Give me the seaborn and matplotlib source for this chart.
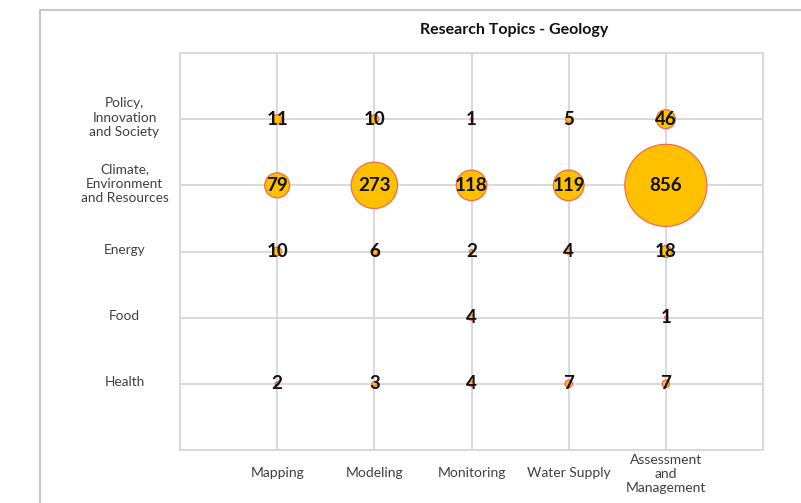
import matplotlib
matplotlib.use("Agg")
import matplotlib.pyplot as plt
import pandas as pd
import seaborn as sns
from matplotlib.lines import Line2D

# Study areas (x) and research topics (y, bottom to top)
methods = ["Mapping", "Modeling", "Monitoring", "Water Supply", "Assessment\nand\nManagement"]
topics = ["Health", "Food", "Energy", "Climate,\nEnvironment\nand Resources", "Policy,\nInnovation\nand Society"]

# Publication counts per topic row (None = no publications)
health = [2, 3, 4, 7, 7]
food = [None, None, 4, None, 1]
energy = [10, 6, 2, 4, 18]
climate = [79, 273, 118, 119, 856]
policy = [11, 10, 1, 5, 46]

rows = [health, food, energy, climate, policy]
records = []
for yi, row in enumerate(rows):
    for xi, val in enumerate(row):
        if val is not None:
            records.append({"method": xi + 1, "topic": yi + 1, "count": val})
df = pd.DataFrame(records)

sns.set_theme(style="white")
plt.rcParams["font.family"] = ["Lato", "DejaVu Sans"]

fig = plt.figure(figsize=(8.01, 5.03), dpi=100)
ax = fig.add_axes([180 / 801, 1 - 450 / 503, (763 - 180) / 801, (450 - 53) / 503])

vmax = df["count"].max()
sns.scatterplot(
    data=df, x="method", y="topic", size="count",
    sizes=(0, 3488), size_norm=(0, vmax),
    color="#FFC000", edgecolor="#F46A50", linewidth=0.9,
    legend=False, ax=ax, zorder=3,
)

ax.set_xlim(0, 6)
ax.set_ylim(0, 6)
ax.set_xticks(range(0, 7))
ax.set_yticks(range(0, 7))
ax.set_xticklabels([])
ax.set_yticklabels([])
ax.tick_params(length=0)
ax.set_xlabel("")
ax.set_ylabel("")
ax.grid(True, color="#d9d9d9", linewidth=1.4)
ax.set_axisbelow(True)
for sp in ax.spines.values():
    sp.set_color("#d9d9d9")
    sp.set_linewidth(1.4)

# Count labels on each bubble
for _, r in df.iterrows():
    ax.text(r["method"], r["topic"], f"{int(r['count'])}", ha="center", va="center",
            fontsize=13.5, fontweight="bold", color="#111111", zorder=4)

# Category labels
for i, m in enumerate(methods):
    ax.annotate(m, xy=(i + 1, 0), xycoords=("data", "axes fraction"),
                xytext=(0, -3 if "\n" in m else -12), textcoords="offset points",
                ha="center", va="top", fontsize=10, color="#404040",
                multialignment="center", linespacing=1.2)
for j, t in enumerate(topics):
    ax.annotate(t, xy=(0, j + 1), xycoords=("axes fraction", "data"),
                xytext=(-40, 1), textcoords="offset points",
                ha="center", va="center", fontsize=9.8, color="#404040",
                multialignment="center", linespacing=1.25)

fig.text(514 / 801, 1 - 30 / 503, "Research Topics - Geology", ha="center", va="center",
         fontsize=11.5, fontweight="bold", color="#111111")

# Chart area border
fig.add_artist(Line2D([40 / 801, 40 / 801], [0, 1 - 10 / 503], transform=fig.transFigure,
                      color="#c8c8c8", linewidth=1.5))
fig.add_artist(Line2D([40 / 801, 1], [1 - 10 / 503, 1 - 10 / 503], transform=fig.transFigure,
                      color="#c8c8c8", linewidth=1.5))

fig.savefig("out.png", dpi=100)
